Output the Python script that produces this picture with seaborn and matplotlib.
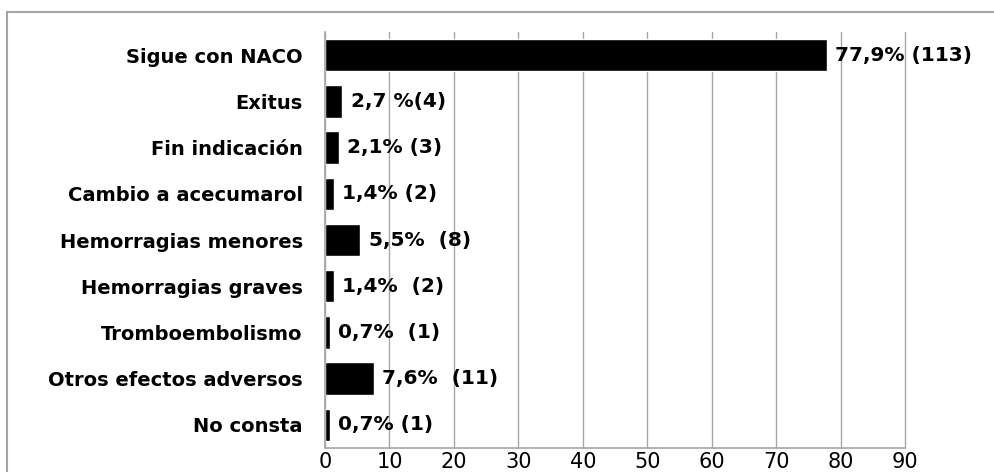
import numpy as np
import pandas as pd
import matplotlib
matplotlib.use("Agg")
import matplotlib.pyplot as plt
import seaborn as sns
from matplotlib.patches import Rectangle
from matplotlib.ticker import MultipleLocator

categories = ["Sigue con NACO", "Exitus", "Fin indicación", "Cambio a acecumarol",
              "Hemorragias menores", "Hemorragias graves", "Tromboembolismo",
              "Otros efectos adversos", "No consta"]
values = [77.9, 2.7, 2.1, 1.4, 5.5, 1.4, 0.7, 7.6, 0.7]
bar_labels = ["77,9% (113)", "2,7 %(4)", "2,1% (3)", "1,4% (2)", "5,5%  (8)",
              "1,4%  (2)", "0,7%  (1)", "7,6%  (11)", "0,7% (1)"]

df = pd.DataFrame({"cat": categories, "val": values})

sns.set_style("white")
plt.rcParams['font.family'] = ['DejaVu Sans']
plt.rcParams['text.color'] = 'black'
plt.rcParams['xtick.labelcolor'] = 'black'
plt.rcParams['ytick.labelcolor'] = 'black'

fig = plt.figure(figsize=(9.94, 4.72), dpi=100)
ax = fig.add_axes([325 / 994, 1 - 448 / 472, 580 / 994, 416 / 472])

sns.barplot(data=df, x="val", y="cat", orient="h", color="black",
            width=0.7, saturation=1, ax=ax)

grid_c = "#a6a6a6"
ax.set_xlim(0, 90)
ax.set_ylim(8.5, -0.5)
ax.xaxis.set_major_locator(MultipleLocator(10))
ax.grid(axis="x", color=grid_c, linewidth=1)
ax.set_axisbelow(True)
ax.set_xlabel("")
ax.set_ylabel("")
for gl in ax.get_xgridlines():
    gl.set_clip_on(False)

for s in ["top", "right"]:
    ax.spines[s].set_visible(False)
for s in ["left", "bottom"]:
    ax.spines[s].set_color(grid_c)
    ax.spines[s].set_linewidth(1.2)

ax.tick_params(axis="x", length=4, color=grid_c, labelsize=15, pad=-1)
ax.tick_params(axis="y", which="major", length=0, pad=16, labelsize=14)
for t in ax.get_yticklabels():
    t.set_fontweight("bold")
ax.set_yticks(np.arange(-0.5, 9, 1), minor=True)
ax.tick_params(axis="y", which="minor", length=5, color=grid_c)

for i, (v, lab) in enumerate(zip(values, bar_labels)):
    ax.annotate(lab, (v, i), xytext=(6, 0), textcoords="offset points",
                va="center", ha="left", fontsize=14.5, fontweight="bold")

fig.add_artist(Rectangle((7 / 994, -0.1), 1.2, 1 - 12 / 472 + 0.1,
                         transform=fig.transFigure, fill=False,
                         edgecolor="#a6a6a6", linewidth=1.5))

fig.savefig("out.png", dpi=100)
